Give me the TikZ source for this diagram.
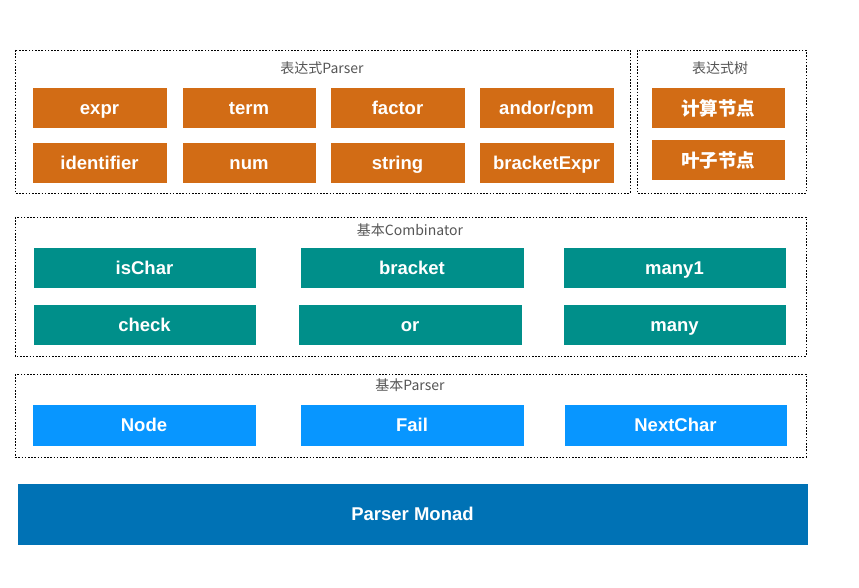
\documentclass[tikz,border=0pt]{standalone}
\usepackage{fontspec}
\setmainfont{Liberation Sans}
\newfontfamily\cjk{Noto Sans CJK SC}
\definecolor{orangebox}{RGB}{210,108,21}
\definecolor{tealbox}{RGB}{0,143,138}
\definecolor{lightblue}{RGB}{8,150,255}
\definecolor{darkblue}{RGB}{0,114,181}
\definecolor{titlegray}{RGB}{85,85,85}
\begin{document}
\begin{tikzpicture}[x=1pt,y=-1pt,
  group/.style={draw=black, line width=0.8pt, dash pattern=on 1.6pt off 1.6pt},
  cell/.style={draw=white, line width=0.6pt, text=white, font=\fontsize{18.5}{20}\selectfont\bfseries},
  lbl/.style={text height=15.5pt, text depth=2pt, inner sep=0pt},
  title/.style={text=titlegray, font=\cjk\fontsize{14}{15}\selectfont, inner sep=0pt},
  ob/.style={cell, fill=orangebox},
  tb/.style={cell, fill=tealbox},
  lb/.style={cell, fill=lightblue},
]
\useasboundingbox (0,0) rectangle (859,588);
% groups
\draw[group] (15,50) rectangle (630,193);
\draw[group] (637,50) rectangle (806,193);
\draw[group] (15,217) rectangle (806,356);
\draw[group] (15,374) rectangle (806,457);
\node[title] (t1) at (322,68) {表达式Parser};
\node[title] (t2) at (720,68) {表达式树};
\node[title] (t3) at (410,230) {基本Combinator};
\node[title] (t4) at (410,385) {基本Parser};
% orange
\path[ob] (32,87) rectangle node[lbl] (expr) {expr} (167,128);
\path[ob] (182,87) rectangle node[lbl] (term) {term} (316,128);
\path[ob] (330,87) rectangle node[lbl] (factor) {factor} (465,128);
\path[ob] (479,87) rectangle node[lbl] (andor) {andor/cpm} (614,128);
\path[ob] (32,142) rectangle node[lbl] (ident) {identifier} (167,183);
\path[ob] (182,142) rectangle node[lbl] (num) {num} (316,183);
\path[ob] (330,142) rectangle node[lbl] (string) {string} (465,183);
\path[ob] (479,142) rectangle node[lbl] (brexpr) {bracketExpr} (614,183);
\path[ob] (651,87) rectangle node[yshift=-1pt] (calc) {\cjk\bfseries 计算节点} (785,128);
\path[ob] (651,139) rectangle node[yshift=-1pt] (leaf) {\cjk\bfseries 叶子节点} (785,180);
% teal
\path[tb] (33,247) rectangle node[lbl] (ischar) {isChar} (256,288);
\path[tb] (300,247) rectangle node[lbl] (bracket) {bracket} (524,288);
\path[tb] (563,247) rectangle node[lbl] (many1) {many1} (786,288);
\path[tb] (33,304) rectangle node[lbl] (check) {check} (256,345);
\path[tb] (298,304) rectangle node[lbl] (or) {or} (522,345);
\path[tb] (563,304) rectangle node[lbl] (many) {many} (786,345);
% light blue
\path[lb] (32,404) rectangle node[lbl] (nodeb) {Node} (256,446);
\path[lb] (300,404) rectangle node[lbl] (fail) {Fail} (524,446);
\path[lb] (564,404) rectangle node[lbl] (next) {NextChar} (787,446);
% monad
\path[cell, fill=darkblue] (17,483) rectangle node[lbl] (monad) {Parser Monad} (808,545);
\end{tikzpicture}
\end{document}
